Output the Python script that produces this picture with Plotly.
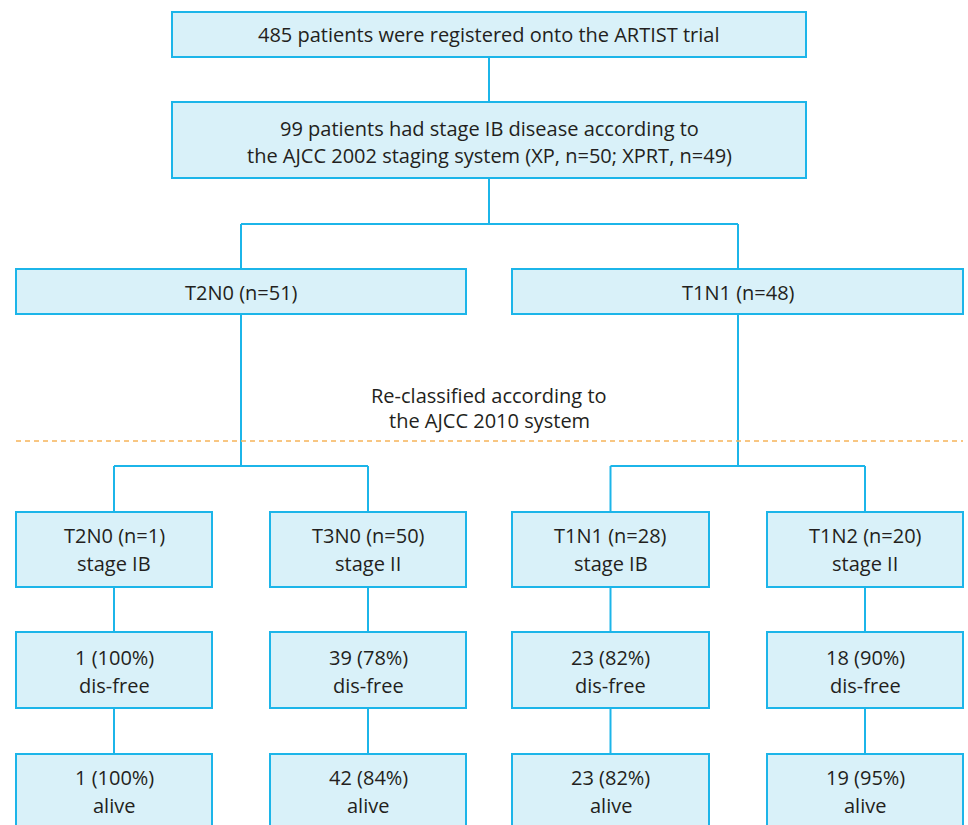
import plotly.graph_objects as go

# ---- data (text content) ----
top_text = ["485 patients were registered onto the ARTIST trial"]
ib_text = ["99 patients had stage IB disease according to",
           "the AJCC 2002 staging system (XP, n=50; XPRT, n=49)"]
group_labels = ["T2N0 (n=51)", "T1N1 (n=48)"]
reclass_text = ["Re-classified according to", "the AJCC 2010 system"]
sub_labels = ["T2N0 (n=1)", "T3N0 (n=50)", "T1N1 (n=28)", "T1N2 (n=20)"]
sub_stage = ["stage IB", "stage II", "stage IB", "stage II"]
disfree_n = [1, 39, 23, 18]
disfree_pct = [100, 78, 82, 90]
alive_n = [1, 42, 23, 19]
alive_pct = [100, 84, 82, 95]

# ---- styles / layout ----
W, H = 968, 825
FILL = "#d9f1f9"
EDGE = "#1cb5e9"
TXT = "#231f20"
ORANGE = "#f6b45a"
FONT = "Open Sans"
FS = 20
LW = 2

shapes = []
annotations = []

def box(x0, y0, x1, y1):
    shapes.append(dict(type="rect", x0=x0, y0=y0, x1=x1, y1=y1,
                       fillcolor=FILL, line=dict(color=EDGE, width=LW), layer="above"))

def line(x0, y0, x1, y1, color=EDGE, dash="solid", width=LW):
    shapes.append(dict(type="line", x0=x0, y0=y0, x1=x1, y1=y1,
                       line=dict(color=color, width=width, dash=dash), layer="below"))

def text(x, y, s):
    annotations.append(dict(x=x, y=y, text=s, showarrow=False, xanchor="center",
                            yanchor="middle", font=dict(family=FONT, size=FS, color=TXT)))

def lines_in(xc, ys, strs):
    for y, s in zip(ys, strs):
        text(xc, y, s)

CX = 489
# top box
box(172, 12, 806, 57)
lines_in(CX, [34], top_text)
line(CX, 57, CX, 102)
# IB box
box(172, 102, 806, 178)
lines_in(CX, [128, 155], ib_text)
line(CX, 178, CX, 224)
# split
gx = [241, 738]
line(gx[0], 224, gx[1], 224)
gbox = [(16, 466), (512, 963)]
for (a, b), xc, lab in zip(gbox, gx, group_labels):
    line(xc, 224, xc, 269)
    box(a, 269, b, 314)
    text(xc, 292, lab)
    line(xc, 314, xc, 466)

# reclassification
lines_in(CX, [395, 420], reclass_text)
line(16, 441, 963, 441, color=ORANGE, dash="5px,4px", width=1.5)

# sub boxes
sx = [(16, 212), (270, 466), (512, 709), (767, 963)]
scx = [(a + b) / 2 for a, b in sx]
line(scx[0], 466, scx[1], 466)
line(scx[2], 466, scx[3], 466)
rows = [(512, 587), (632, 708), (754, 832)]
for i, ((a, b), xc) in enumerate(zip(sx, scx)):
    line(xc, 466, xc, rows[0][0])
    line(xc, rows[0][1], xc, rows[1][0])
    line(xc, rows[1][1], xc, rows[2][0])
    for (y0, y1) in rows:
        box(a, y0, b, y1)
    lines_in(xc, [535, 563], [sub_labels[i], sub_stage[i]])
    lines_in(xc, [657, 685], [f"{disfree_n[i]} ({disfree_pct[i]}%)", "dis-free"])
    lines_in(xc, [777, 805], [f"{alive_n[i]} ({alive_pct[i]}%)", "alive"])

fig = go.Figure()
fig.update_layout(
    width=W, height=H, margin=dict(l=0, r=0, t=0, b=0),
    paper_bgcolor="white", plot_bgcolor="white",
    xaxis=dict(range=[0, W], visible=False, fixedrange=True),
    yaxis=dict(range=[H, 0], visible=False, fixedrange=True),
    shapes=shapes, annotations=annotations, showlegend=False,
)
fig.write_html("out.html", config={"displayModeBar": False},
               post_script="document.body.style.margin='0';document.body.style.overflow='hidden';")
